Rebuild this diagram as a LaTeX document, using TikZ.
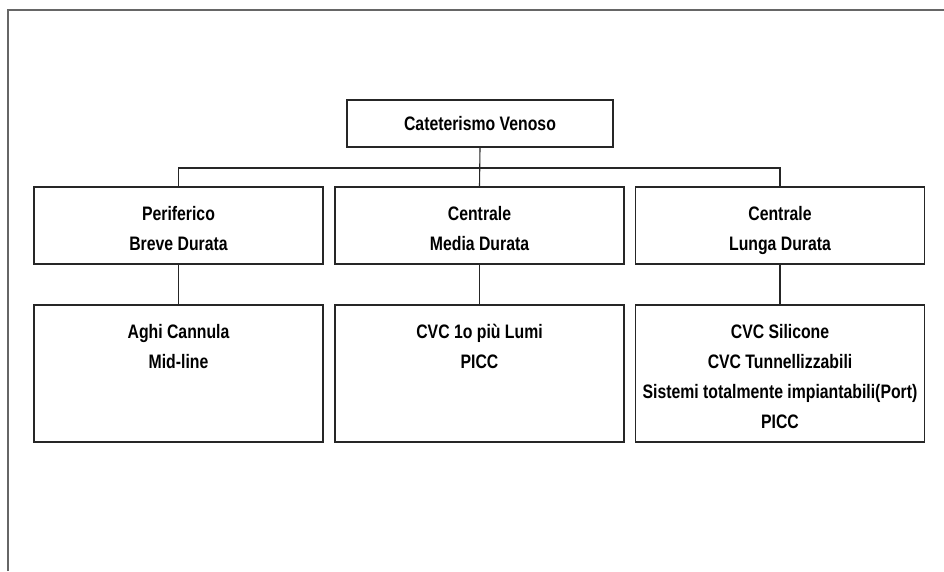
\documentclass[tikz,border=0pt]{standalone}
\usepackage{fontspec}
\setmainfont{Liberation Sans}[FakeStretch=0.81]
\tikzset{
    frame line/.style={draw=black!60, line width=1.6pt},
    link/.style={draw=black!85, line width=1.1pt},
    catfont/.style={font=\bfseries\fontsize{19.5}{30}\selectfont},
    catbox/.style={draw=black!85, line width=1.3pt, inner sep=0pt, align=center, catfont},
    topbox/.style={catbox, minimum width=266pt, minimum height=47pt},
    midbox/.style={catbox, minimum width=289pt, minimum height=77pt},
    lowbox/.style={catbox, minimum width=289pt, minimum height=137pt},
    boxtext/.style={anchor=north, yshift=-20pt, align=center, inner sep=0pt, catfont},
}

\begin{document}
\begin{tikzpicture}[x=1pt, y=-1pt]
            \useasboundingbox (0,0) rectangle (944,571);
            \draw[frame line] (8,571) -- (8,10) -- (944,10);
            \node[topbox] (cateterismo) at (480,123.5) {Cateterismo Venoso};
            \node[midbox, label={[boxtext]north:Periferico\\Breve Durata}] (periferico) at (178.5,225.5) {};
            \node[midbox, label={[boxtext]north:Centrale\\Media Durata}] (media) at (479.5,225.5) {};
            \node[midbox, label={[boxtext]north:Centrale\\Lunga Durata}] (lunga) at (780,225.5) {};
            \node[lowbox, label={[boxtext]north:Aghi Cannula\\Mid-line}] (aghi) at (178.5,373.5) {};
            \node[lowbox, label={[boxtext]north:CVC 1o più Lumi\\PICC}] (cvc) at (479.5,373.5) {};
            \node[lowbox, label={[boxtext]north:CVC Silicone\\CVC Tunnellizzabili\\Sistemi totalmente impiantabili(Port)\\PICC}] (silicone) at (780,373.5) {};
            \coordinate (bar) at (480,168);
            \draw[link] (periferico.north) |- (bar) -| (lunga.north);
            \draw[link] (cateterismo.south) -- (media.north);
            \draw[link] (periferico) -- (aghi);
            \draw[link] (media) -- (cvc);
            \draw[link] (lunga) -- (silicone);
        \end{tikzpicture}
\end{document}
